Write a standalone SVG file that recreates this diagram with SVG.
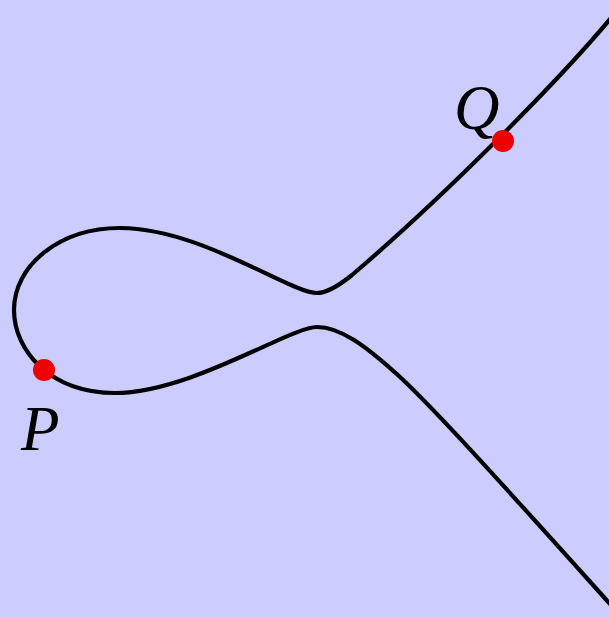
<svg xmlns="http://www.w3.org/2000/svg" width="609" height="617" viewBox="0 0 609 617">
<style>
.curve{fill:none;stroke:#000;stroke-width:4.2;stroke-linecap:round;stroke-linejoin:round}
.pt{fill:#ee0000}
.lbl{font-family:"Liberation Serif","DejaVu Serif",serif;font-style:italic;font-size:63px;fill:#000}
</style>
<rect width="609" height="617" fill="#ccccff"/>
<g id="curves">
<path class="curve" d="M 611 18 C 555 85, 440 200, 352 275 C 336 288, 326 293, 317 293 C 290 293, 200 228, 120 228 C 60 228, 14 265, 14 310 C 14 350, 50 393, 115 393 C 190 393, 290 327, 317 327 C 340 327, 365 345, 400 377 C 440 414, 530 515, 611 605"/>
</g>
<g id="Q">
<circle class="pt" cx="503" cy="141" r="11"/>
<text class="lbl" x="454" y="129">Q</text>
</g>
<g id="P">
<circle class="pt" cx="44" cy="370" r="11"/>
<text class="lbl" x="21" y="450">P</text>
</g>
</svg>
